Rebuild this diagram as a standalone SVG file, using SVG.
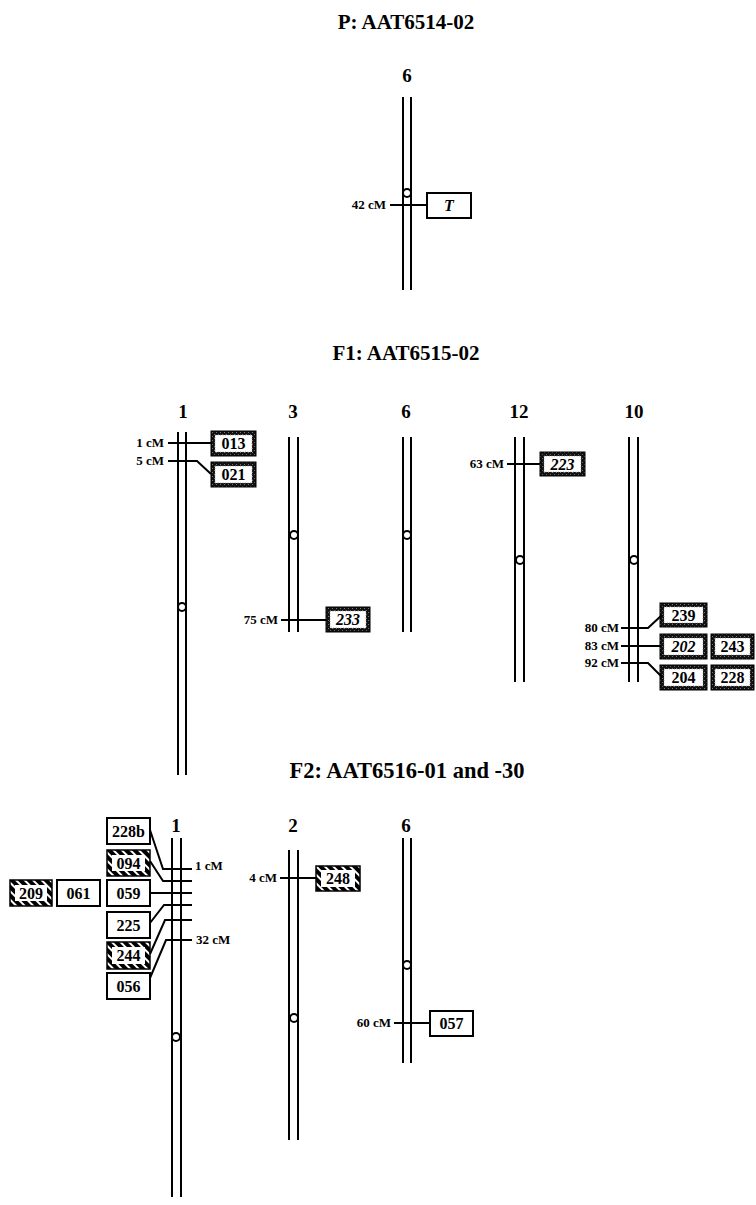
<svg xmlns="http://www.w3.org/2000/svg" width="756" height="1205" viewBox="0 0 756 1205">
<style>
.chr{stroke:#000;stroke-width:2;fill:none}
.tk{stroke:#000;stroke-width:2;fill:none}
.cen{fill:#fff;stroke:#000;stroke-width:2}
text{font-family:"Liberation Serif","Times New Roman",serif;font-weight:bold;fill:#000}
.title{font-size:21px;text-anchor:middle}
.num{font-size:19px;text-anchor:middle}
.cm{font-size:13px;text-anchor:end}
.cmL{font-size:13px;text-anchor:start}
.lbl{font-size:16px;text-anchor:middle}
.it{font-style:italic}
.plain{fill:#fff;stroke:#000;stroke-width:2}
.stip{fill:url(#stip);stroke:#000;stroke-width:1}
.hat{fill:url(#hat);stroke:#000;stroke-width:1.5}
.inner{fill:#fff}
.inS{fill:#fff;stroke:#888;stroke-width:0.8;stroke-dasharray:1 1.5}
</style>
<defs>
<pattern id="stip" width="4" height="4" patternUnits="userSpaceOnUse">
<rect width="4" height="4" fill="#111"/>
<rect x="0" y="0" width="1" height="1" fill="#777"/>
<rect x="2" y="2" width="1" height="1" fill="#666"/>
</pattern>
<pattern id="hat" width="6" height="6" patternUnits="userSpaceOnUse" patternTransform="rotate(-45)">
<rect width="6" height="6" fill="#000"/>
<rect x="0" y="0" width="2" height="6" fill="#fff"/>
</pattern>
</defs>

<g id="titles">
<text class="title" x="406" y="29">P: AAT6514-02</text>
<text class="title" x="406" y="360">F1: AAT6515-02</text>
<text class="title" x="407" y="778" style="font-size:22.5px">F2: AAT6516-01 and -30</text>
</g>

<!-- P section -->
<g id="P-chr6">
<text class="num" x="407" y="82">6</text>
<line class="chr" x1="403" y1="97" x2="403" y2="290"/>
<line class="chr" x1="411" y1="97" x2="411" y2="290"/>
<circle class="cen" cx="407" cy="193" r="4"/>
</g>
<g id="P-T">
<rect class="plain" x="427" y="193" width="44" height="25"/>
<text class="lbl it" x="449" y="211">T</text>
</g>

<!-- F1 -->
<g id="F1-chr1">
<text class="num" x="183" y="418">1</text>
<line class="chr" x1="178" y1="432" x2="178" y2="775"/>
<line class="chr" x1="186" y1="432" x2="186" y2="775"/>
<circle class="cen" cx="182" cy="607" r="4"/>
</g>
<g id="F1-013"><rect class="stip" x="211" y="431" width="45" height="25"/><rect class="inS" x="215" y="435" width="37" height="17"/><text class="lbl" x="233.5" y="449">013</text></g>
<g id="F1-021"><rect class="stip" x="211" y="462" width="45" height="25"/><rect class="inS" x="215" y="466" width="37" height="17"/><text class="lbl" x="233.5" y="480">021</text></g>

<g id="F1-chr3">
<text class="num" x="293" y="418">3</text>
<line class="chr" x1="289" y1="437" x2="289" y2="632"/>
<line class="chr" x1="298" y1="437" x2="298" y2="632"/>
<circle class="cen" cx="294" cy="535" r="4"/>
</g>
<g id="F1-233"><rect class="stip" x="326" y="607" width="44" height="25"/><rect class="inS" x="330" y="611" width="36" height="17"/><text class="lbl it" x="348" y="625">233</text></g>

<g id="F1-chr6">
<text class="num" x="406" y="418">6</text>
<line class="chr" x1="403" y1="437" x2="403" y2="632"/>
<line class="chr" x1="411" y1="437" x2="411" y2="632"/>
<circle class="cen" cx="407" cy="535" r="4"/>
</g>

<g id="F1-chr12">
<text class="num" x="519" y="418">12</text>
<line class="chr" x1="515" y1="437" x2="515" y2="682"/>
<line class="chr" x1="524" y1="437" x2="524" y2="682"/>
<circle class="cen" cx="520" cy="560" r="4"/>
</g>
<g id="F1-223"><rect class="stip" x="540" y="452" width="45" height="24"/><rect class="inS" x="544" y="456" width="37" height="16"/><text class="lbl it" x="562.5" y="470">223</text></g>

<g id="F1-chr10">
<text class="num" x="634" y="418">10</text>
<line class="chr" x1="629" y1="437" x2="629" y2="682"/>
<line class="chr" x1="638" y1="437" x2="638" y2="682"/>
<circle class="cen" cx="634" cy="560" r="4"/>
</g>
<g id="F1-239"><rect class="stip" x="660" y="603" width="47" height="24"/><rect class="inS" x="664" y="607" width="39" height="16"/><text class="lbl" x="683.5" y="621">239</text></g>
<g id="F1-202"><rect class="stip" x="660" y="634" width="47" height="25"/><rect class="inS" x="664" y="638" width="39" height="17"/><text class="lbl it" x="683.5" y="652">202</text></g>
<g id="F1-243"><rect class="stip" x="711" y="634" width="43" height="25"/><rect class="inS" x="715" y="638" width="35" height="17"/><text class="lbl" x="732.5" y="652">243</text></g>
<g id="F1-204"><rect class="stip" x="660" y="665" width="47" height="25"/><rect class="inS" x="664" y="669" width="39" height="17"/><text class="lbl" x="683.5" y="683">204</text></g>
<g id="F1-228"><rect class="stip" x="711" y="665" width="43" height="25"/><rect class="inS" x="715" y="669" width="35" height="17"/><text class="lbl" x="732.5" y="683">228</text></g>

<!-- F2 -->
<g id="F2-chr1">
<text class="num" x="176" y="832">1</text>
<line class="chr" x1="172" y1="838" x2="172" y2="1197"/>
<line class="chr" x1="181" y1="838" x2="181" y2="1197"/>
<circle class="cen" cx="176" cy="1037" r="4"/>
</g>
<g id="F2-228b"><rect class="plain" x="107" y="818" width="43" height="26"/><text class="lbl" x="128.5" y="837">228b</text></g>
<g id="F2-094"><rect class="hat" x="107" y="850" width="43" height="26"/><rect class="inner" x="112" y="855" width="33" height="16"/><text class="lbl" x="128.5" y="869">094</text></g>
<g id="F2-059"><rect class="plain" x="107" y="880" width="43" height="26"/><text class="lbl" x="128.5" y="899">059</text></g>
<g id="F2-061"><rect class="plain" x="57" y="880" width="43" height="26"/><text class="lbl" x="78.5" y="899">061</text></g>
<g id="F2-209"><rect class="hat" x="10" y="880" width="42" height="26"/><rect class="inner" x="15" y="885" width="32" height="16"/><text class="lbl" x="31" y="899">209</text></g>
<g id="F2-225"><rect class="plain" x="107" y="912" width="43" height="26"/><text class="lbl" x="128.5" y="931">225</text></g>
<g id="F2-244"><rect class="hat" x="107" y="942" width="43" height="27"/><rect class="inner" x="112" y="947" width="33" height="17"/><text class="lbl" x="128.5" y="961">244</text></g>
<g id="F2-056"><rect class="plain" x="107" y="973" width="43" height="26"/><text class="lbl" x="128.5" y="992">056</text></g>

<g id="F2-chr2">
<text class="num" x="293" y="832">2</text>
<line class="chr" x1="289" y1="850" x2="289" y2="1140"/>
<line class="chr" x1="298" y1="850" x2="298" y2="1140"/>
<circle class="cen" cx="294" cy="1018" r="4"/>
</g>
<g id="F2-248"><rect class="hat" x="316" y="866" width="44" height="25"/><rect class="inner" x="321" y="870" width="34" height="17"/><text class="lbl" x="338" y="884">248</text></g>

<g id="F2-chr6">
<text class="num" x="406" y="832">6</text>
<line class="chr" x1="403" y1="838" x2="403" y2="1063"/>
<line class="chr" x1="411" y1="838" x2="411" y2="1063"/>
<circle class="cen" cx="407" cy="965" r="4"/>
</g>
<g id="F2-057"><rect class="plain" x="430" y="1011" width="43" height="25"/><text class="lbl" x="451.5" y="1029">057</text></g>

<!-- connectors and cM labels -->
<g id="connectors">
<line class="tk" x1="390" y1="205" x2="427" y2="205"/>
<text class="cm" x="386" y="209">42 cM</text>

<line class="tk" x1="168" y1="443" x2="211" y2="443"/>
<text class="cm" x="164" y="447">1 cM</text>
<polyline class="tk" points="168,461 197,461 211,474"/>
<text class="cm" x="164" y="465">5 cM</text>

<line class="tk" x1="281" y1="620" x2="326" y2="620"/>
<text class="cm" x="278" y="624">75 cM</text>

<line class="tk" x1="507" y1="464" x2="540" y2="464"/>
<text class="cm" x="504" y="468">63 cM</text>

<polyline class="tk" points="621,628 648,628 662,615"/>
<text class="cm" x="619" y="632">80 cM</text>
<line class="tk" x1="621" y1="646" x2="660" y2="646"/>
<text class="cm" x="619" y="650">83 cM</text>
<polyline class="tk" points="621,663 648,663 662,677"/>
<text class="cm" x="619" y="667">92 cM</text>

<polyline class="tk" points="150,830 163,869 192,869"/>
<text class="cmL" x="195" y="870">1 cM</text>
<polyline class="tk" points="150,861 163,881 192,881"/>
<line class="tk" x1="150" y1="893" x2="192" y2="893"/>
<polyline class="tk" points="150,923 164,905 192,905"/>
<polyline class="tk" points="150,954 165,920 192,920"/>
<polyline class="tk" points="150,978 166,940 192,940"/>
<text class="cmL" x="196" y="944">32 cM</text>

<line class="tk" x1="280" y1="878" x2="316" y2="878"/>
<text class="cm" x="277" y="882">4 cM</text>

<line class="tk" x1="394" y1="1023" x2="430" y2="1023"/>
<text class="cm" x="391" y="1027">60 cM</text>
</g>
</svg>
